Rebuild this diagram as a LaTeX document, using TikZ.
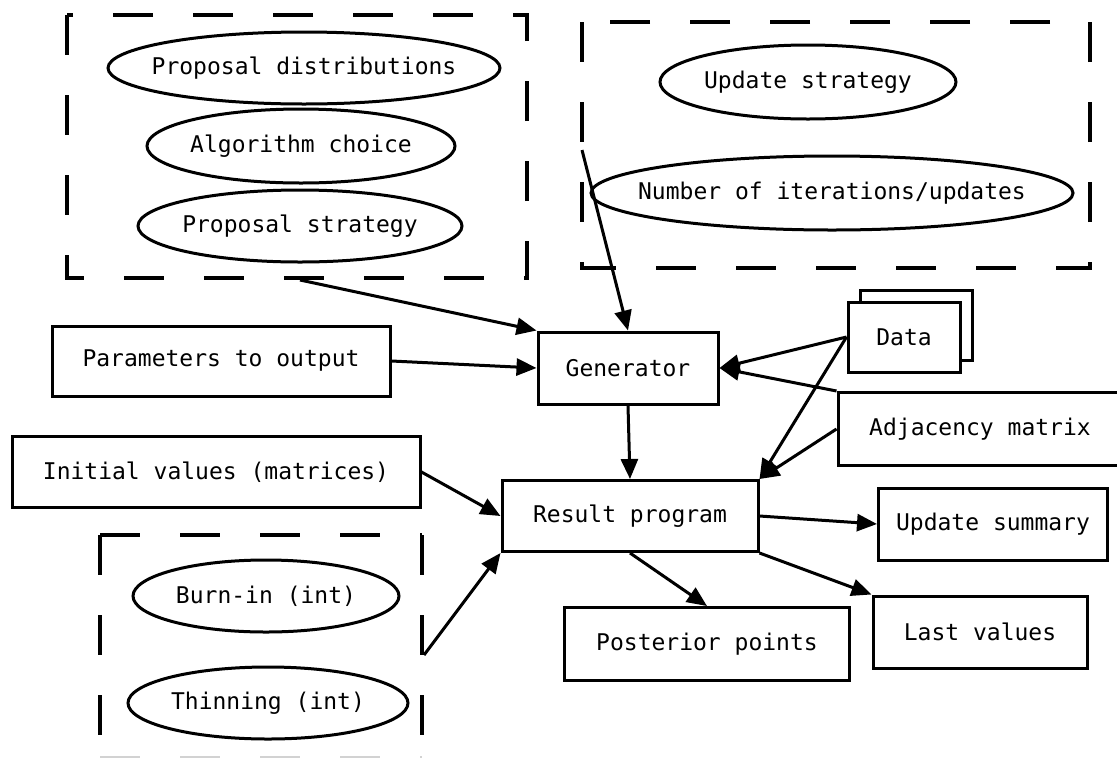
\documentclass[tikz,border=0pt]{standalone}
\usepackage{fontspec}
\setmonofont{DejaVu Sans Mono}
\usetikzlibrary{arrows.meta,shapes.geometric}
\begin{document}
\begin{tikzpicture}[x=1pt,y=-1pt,
  every node/.style={font=\ttfamily\fontsize{23}{28}\selectfont},
  box/.style={draw,line width=3pt,rectangle,inner sep=0pt,fill=white},
  lbl/.style={inner sep=0pt},
  ring/.style={draw,line width=3pt,fill=white},
  grp/.style={line width=4pt,dash pattern=on 40pt off 40pt},
  arr/.style={line width=3pt,-{Triangle[length=20pt,width=17pt]}}]
\useasboundingbox (0,0) rectangle (1117,764);
% dashed groups
\draw[grp] (67,15) rectangle (527,278);
\draw[grp] (582,22) rectangle (1090,268);
\draw[grp] (100,535) -- (422,535);
\draw[grp] (100,535) -- (100,757);
\draw[grp] (422,535) -- (422,757);
\draw[grp,gray!35,line width=2pt] (100,757) -- (422,757);
% ellipses
\draw[ring] (304,68) ellipse [x radius=196, y radius=36];
\node[lbl] (pd) at (304,68) {Proposal distributions};
\draw[ring] (301,146) ellipse [x radius=154, y radius=37];
\node[lbl] (ac) at (301,146) {Algorithm choice};
\draw[ring] (300,226) ellipse [x radius=162, y radius=36];
\node[lbl] (ps) at (300,226) {Proposal strategy};
\draw[ring] (808,82) ellipse [x radius=148, y radius=37];
\node[lbl] (us) at (808,82) {Update strategy};
\draw[ring] (832,193) ellipse [x radius=241, y radius=37];
\node[lbl] (ni) at (832,193) {Number of iterations/updates};
\draw[ring] (266,596) ellipse [x radius=133, y radius=36];
\node[lbl] (bi) at (266,596) {Burn-in (int)};
\draw[ring] (268,703) ellipse [x radius=140, y radius=36];
\node[lbl] (th) at (268,703) {Thinning (int)};
% boxes
\node[box,minimum width=180,minimum height=72] (gen) at (628,368) {Generator};
\node[box,minimum width=338,minimum height=70] (prm) at (221,361) {Parameters to output};
\node[box,minimum width=112,minimum height=70] (datab) at (916,325) {};
\node[box,minimum width=112,minimum height=70] (data) at (904,337) {Data};
\node[box,minimum width=284,minimum height=73] (adj) at (980,429) {Adjacency matrix};
\node[box,minimum width=408,minimum height=71] (init) at (216,472) {Initial values (matrices)};
\node[box,minimum width=256,minimum height=71] (res) at (630,516) {Result program};
\node[box,minimum width=229,minimum height=72] (upd) at (993,524) {Update summary};
\node[box,minimum width=285,minimum height=73] (post) at (707,644) {Posterior points};
\node[box,minimum width=214,minimum height=72] (last) at (980,632) {Last values};
% free ends
\coordinate (g1) at (300,280);
\coordinate (g2) at (582,150);
\coordinate (g3) at (424,655);
% connectors
\draw[arr] (g1) -- (gen.north west);
\draw[arr] (g2) -- (gen.north);
\draw[arr] (prm.east) -- (gen.west);
\draw[arr] (data.west) -- (gen.east);
\draw[arr] (adj.north west) -- (gen.east);
\draw[arr] (data.west) -- (res.north east);
\draw[arr] (adj.west) -- (res.north east);
\draw[arr] (gen.south) -- (res.north);
\draw[arr] (init.east) -- (res.west);
\draw[arr] (g3) -- (res.south west);
\draw[arr] (res.east) -- (upd.west);
\draw[arr] (res.south) -- (post.north);
\draw[arr] (res.south east) -- (last.north west);
\end{tikzpicture}
\end{document}
